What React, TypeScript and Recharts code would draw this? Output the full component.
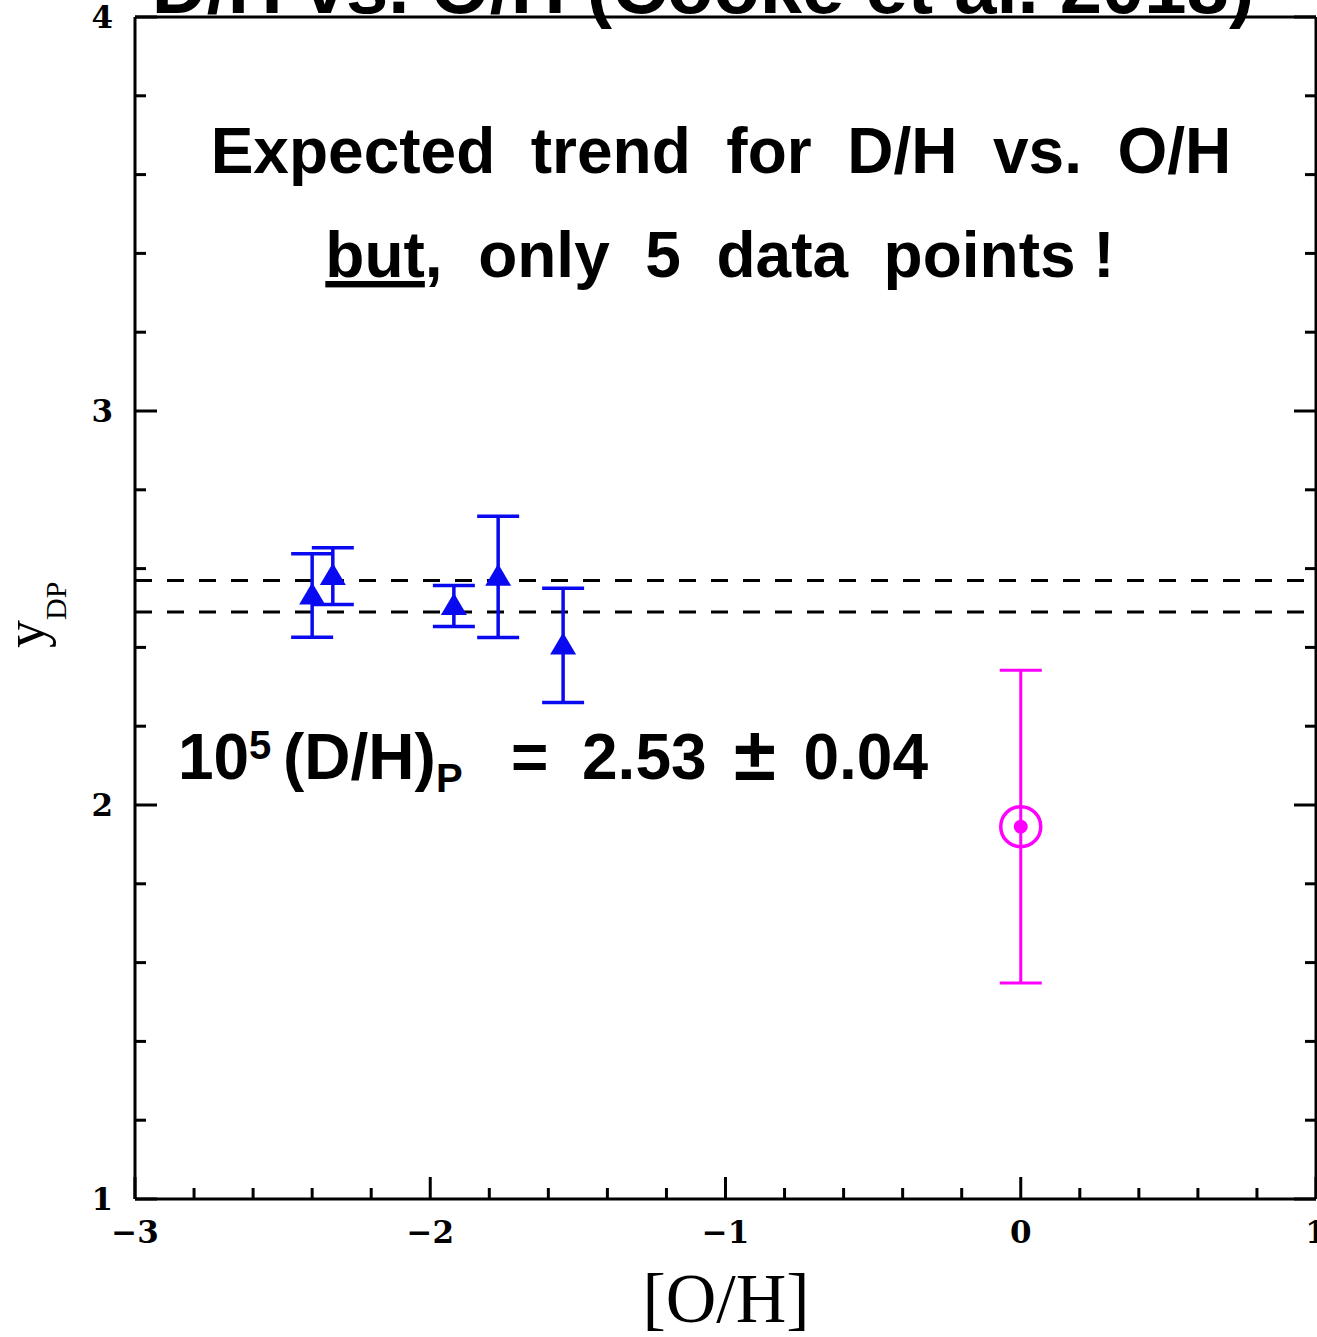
import React from 'react';
import { ScatterChart, Scatter, XAxis, YAxis, ErrorBar, ReferenceLine, Customized } from 'recharts';

// metal-poor D/H measurements: [O/H] and 10^5 D/H with 1-sigma errors
const ohValues = [-2.40, -2.33, -1.92, -1.77, -1.55];
const dhValues = [2.532, 2.581, 2.505, 2.579, 2.405];
const dhErrors = [0.106, 0.072, 0.052, 0.154, 0.145];

// local (solar metallicity) point
const localOH = [0.0];
const localDH = [1.945];
const localErr = [0.397];

// primordial value, drawn as the +/- band
const primordialDH = 2.53;
const primordialErr = 0.04;

const xTicks = [-3, -2.8, -2.6, -2.4, -2.2, -2, -1.8, -1.6, -1.4, -1.2, -1, -0.8, -0.6, -0.4, -0.2, 0, 0.2, 0.4, 0.6, 0.8, 1];
const yTicks = [1, 1.2, 1.4, 1.6, 1.8, 2, 2.2, 2.4, 2.6, 2.8, 3, 3.2, 3.4, 3.6, 3.8, 4];
const xMajor = [-3, -2, -1, 0, 1];
const xTickLabels = ['\u22123', '\u22122', '\u22121', '0', '1'];
const yMajor = [1, 2, 3, 4];
const yTickLabels = ['1', '2', '3', '4'];

const dwarfData = ohValues.map((oh, i) => ({ oh, dh: dhValues[i], err: dhErrors[i] }));
const localData = localOH.map((oh, i) => ({ oh, dh: localDH[i], err: localErr[i] }));

const BLUE = '#0a0af0';
const MAGENTA = '#ff00ff';
const MAJOR_LEN = 22;
const MINOR_LEN = 11;
const tickFont = { fontFamily: '"DejaVu Serif", serif', fontWeight: 700, fontSize: 31 };
const textFont = { fontFamily: '"Liberation Sans", Arial, sans-serif', fontWeight: 700, fontSize: 64, whiteSpace: 'pre' as const };

const isMajor = (v: number) => Math.abs(v - Math.round(v)) < 1e-6;

function BottomTick({ x, y, payload }: any) {
  const v = payload.value;
  const major = isMajor(v);
  const idx = xMajor.indexOf(Math.round(v));
  return (
    <g>
      <line x1={x} x2={x} y1={y} y2={y - (major ? MAJOR_LEN : MINOR_LEN)} stroke="#000" strokeWidth={3} />
      {major && (
        <text x={x} y={y + 44} textAnchor="middle" fill="#000" style={tickFont}>
          {xTickLabels[idx]}
        </text>
      )}
    </g>
  );
}

function TopTick({ x, y, payload }: any) {
  const major = isMajor(payload.value);
  return <line x1={x} x2={x} y1={y} y2={y + (major ? MAJOR_LEN : MINOR_LEN)} stroke="#000" strokeWidth={3} />;
}

function LeftTick({ x, y, payload }: any) {
  const v = payload.value;
  const major = isMajor(v);
  const idx = yMajor.indexOf(Math.round(v));
  return (
    <g>
      <line x1={x} x2={x + (major ? MAJOR_LEN : MINOR_LEN)} y1={y} y2={y} stroke="#000" strokeWidth={3} />
      {major && (
        <text x={x - 22} y={y + 11} textAnchor="end" fill="#000" style={tickFont}>
          {yTickLabels[idx]}
        </text>
      )}
    </g>
  );
}

function RightTick({ x, y, payload }: any) {
  const major = isMajor(payload.value);
  return <line x1={x} x2={x - (major ? MAJOR_LEN : MINOR_LEN)} y1={y} y2={y} stroke="#000" strokeWidth={3} />;
}

function Triangle({ cx, cy }: any) {
  return <polygon points={`${cx},${cy - 13} ${cx - 13},${cy + 9} ${cx + 13},${cy + 9}`} fill={BLUE} />;
}

function SunMarker({ cx, cy }: any) {
  return (
    <g>
      <circle cx={cx} cy={cy} r={20} fill="none" stroke={MAGENTA} strokeWidth={3.5} />
      <circle cx={cx} cy={cy} r={7} fill={MAGENTA} />
    </g>
  );
}

function Annotations() {
  return (
    <g fill="#000">
      <text x={703} y={13} textAnchor="middle" style={{ ...textFont, fontSize: 76 }}>
        D/H vs. O/H (Cooke et al. 2018)
      </text>
      <text x={721} y={173} textAnchor="middle" style={textFont}>
        {'Expected  trend  for  D/H  vs.  O/H'}
      </text>
      <text x={720} y={277} textAnchor="middle" style={textFont}>
        <tspan style={{ textDecoration: 'underline' }}>but</tspan>
        {',  only  5  data  points !'}
      </text>
      <text x={178} y={779} style={textFont}>10</text>
      <text x={249} y={759} style={{ ...textFont, fontSize: 40 }}>5</text>
      <text x={283} y={779} style={textFont}>(D/H)</text>
      <text x={436} y={792} style={{ ...textFont, fontSize: 40 }}>P</text>
      <text x={511} y={779} style={textFont}>=</text>
      <text x={582} y={779} style={textFont}>2.53</text>
      <text x={734} y={780} style={{ ...textFont, fontSize: 76 }}>{'\u00b1'}</text>
      <text x={928} y={779} textAnchor="end" style={textFont}>0.04</text>
      <text
        transform="translate(44,648) rotate(-90)"
        style={{ fontFamily: '"Liberation Serif", serif', fontSize: 56 }}
      >
        y
        <tspan dy={22} style={{ fontSize: 30 }}>DP</tspan>
      </text>
      <text x={726} y={1322} textAnchor="middle" style={{ fontFamily: '"Liberation Serif", serif', fontSize: 70 }}>
        [O/H]
      </text>
    </g>
  );
}

export default function App() {
  return (
    <div style={{ position: 'absolute', left: 0, top: 0, width: 1317, height: 1337, background: '#fff' }}>
      <ScatterChart width={1317} height={1337} margin={{ top: 15, right: 0, bottom: 78, left: 60 }}>
        <XAxis
          type="number"
          dataKey="oh"
          domain={[-3, 1]}
          ticks={xTicks}
          interval={0}
          height={60}
          tickSize={0}
          tickMargin={0}
          tickLine={false}
          axisLine={{ stroke: '#000', strokeWidth: 3 }}
          tick={(p: any) => <BottomTick {...p} />}
          allowDataOverflow
        />
        <XAxis
          xAxisId="top"
          orientation="top"
          type="number"
          domain={[-3, 1]}
          ticks={xTicks}
          interval={0}
          height={2}
          tickSize={0}
          tickMargin={0}
          tickLine={false}
          axisLine={{ stroke: '#000', strokeWidth: 3 }}
          tick={(p: any) => <TopTick {...p} />}
          allowDataOverflow
        />
        <YAxis
          type="number"
          dataKey="dh"
          domain={[1, 4]}
          ticks={yTicks}
          interval={0}
          width={75}
          tickSize={0}
          tickMargin={0}
          tickLine={false}
          axisLine={{ stroke: '#000', strokeWidth: 3 }}
          tick={(p: any) => <LeftTick {...p} />}
          allowDataOverflow
        />
        <YAxis
          yAxisId="right"
          orientation="right"
          type="number"
          domain={[1, 4]}
          ticks={yTicks}
          interval={0}
          width={1}
          tickSize={0}
          tickMargin={0}
          tickLine={false}
          axisLine={{ stroke: '#000', strokeWidth: 3 }}
          tick={(p: any) => <RightTick {...p} />}
          allowDataOverflow
        />
        <ReferenceLine y={primordialDH + primordialErr} stroke="#000" strokeWidth={3} strokeDasharray="17 15" />
        <ReferenceLine y={primordialDH - primordialErr} stroke="#000" strokeWidth={3} strokeDasharray="17 15" />
        <Scatter data={dwarfData} shape={(p: any) => <Triangle {...p} />} isAnimationActive={false}>
          <ErrorBar dataKey="err" direction="y" width={21} stroke={BLUE} strokeWidth={3.5} isAnimationActive={false} />
        </Scatter>
        <Scatter data={localData} shape={(p: any) => <SunMarker {...p} />} isAnimationActive={false}>
          <ErrorBar dataKey="err" direction="y" width={21} stroke={MAGENTA} strokeWidth={3} isAnimationActive={false} />
        </Scatter>
        <Customized component={<Annotations />} />
      </ScatterChart>
    </div>
  );
}
